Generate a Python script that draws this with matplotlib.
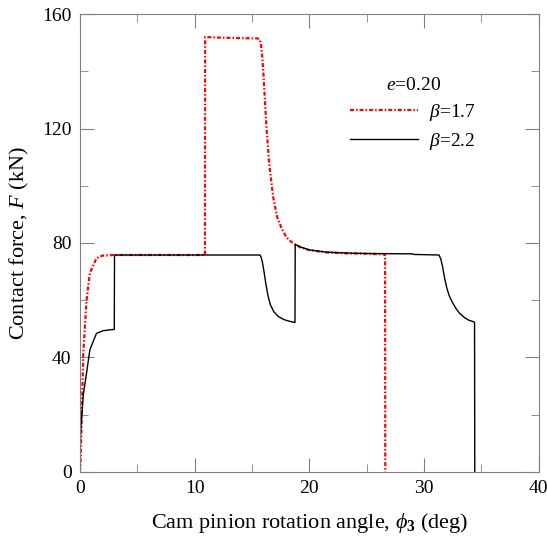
import matplotlib.pyplot as plt

plt.rcParams['font.family'] = 'Liberation Serif'
plt.rcParams['mathtext.fontset'] = 'custom'
plt.rcParams['mathtext.rm'] = 'Liberation Serif'
plt.rcParams['mathtext.it'] = 'Liberation Serif:italic'
plt.rcParams['mathtext.bf'] = 'Liberation Serif:bold'

# beta = 1.7 (red dash-dot)
red_x = [0, 0.06, 0.3, 0.58, 0.87, 1.45, 2.0, 3, 5, 8, 10.9, 10.92, 12, 14, 15.5, 15.7,
         15.8, 15.9, 16.0, 16.1, 16.27, 16.5, 16.85, 17.2, 17.6, 18.0, 18.4, 18.75, 19.2,
         20.0, 21.5, 23, 24.4, 26.0, 26.6, 26.62]
red_y = [0, 3, 41.5, 60, 69.5, 74.7, 75.6, 75.8, 75.8, 75.8, 75.8, 152, 151.8, 151.6, 151.5, 151,
         149, 145, 139, 132, 120, 108, 96, 89, 85, 82, 80.5, 79.5, 78.5,
         77.5, 76.7, 76.4, 76.3, 76.1, 76, 0]

# beta = 2.2 (black solid)
black_x = [0, 0.06, 0.3, 0.58, 0.87, 1.2, 1.45, 2.0, 2.5, 3.0, 3.02, 8, 15.7, 15.8, 15.9,
           16.05, 16.2, 16.4, 16.6, 16.9, 17.3, 17.8, 18.3, 18.75, 18.77, 19.3, 20, 21.5,
           24, 26, 29.0, 29.1, 31.3, 31.45, 31.6, 31.8, 32.0, 32.2, 32.5, 32.8, 33.1, 33.5,
           33.9, 34.3, 34.4, 34.42]
black_y = [0, 13.6, 27, 34.5, 42.6, 46, 48.4, 49.3, 49.6, 49.8, 75.8, 75.8, 75.8, 75, 73.5,
           70, 66, 61.5, 58.5, 56, 54.3, 53.2, 52.6, 52.2, 79.5, 78.5, 77.6, 76.8,
           76.4, 76.3, 76.2, 76.0, 75.8, 74.5, 72, 67.5, 64, 61.5, 59, 57, 55.4, 54,
           53, 52.5, 52.3, 0]

fig = plt.figure(figsize=(5.47, 5.43), dpi=100)
ax = fig.add_axes([0.146, 0.131, 0.839, 0.843])

ax.plot(red_x, red_y, color='red', lw=1.6, dashes=(1.8, 0.9, 0.7, 0.9), label=r'$\beta$=1.7')
ax.plot(black_x, black_y, color='black', lw=1.0, label=r'$\beta$=2.2')

ax.set_xlim(0, 40)
ax.set_ylim(0, 160)
ax.set_xticks([0, 10, 20, 30, 40])
ax.set_xticks([5, 15, 25, 35], minor=True)
ax.set_yticks([0, 40, 80, 120, 160])
ax.set_yticks([20, 60, 100, 140], minor=True)
ax.tick_params(which='both', direction='in', top=True, right=True, color='gray',
               labelsize=14, pad=6)
ax.tick_params(which='major', length=10)
ax.tick_params(which='minor', length=5.5)
for s in ax.spines.values():
    s.set_color('gray')

ax.set_xlabel(r'Cam pinion rotation angle, $\phi_\mathbf{3}$ (deg)', fontsize=16, labelpad=10)
ax.set_ylabel(r'Contact force, $F$ (kN)', fontsize=16, labelpad=8)

leg = ax.legend(loc='upper left', bbox_to_anchor=(0.55, 0.90), frameon=False,
                title=r'$e$=0.20', fontsize=14, title_fontsize=14,
                handlelength=3.5, handletextpad=0.6, labelspacing=0.4)

fig.savefig('out.png', dpi=100)
